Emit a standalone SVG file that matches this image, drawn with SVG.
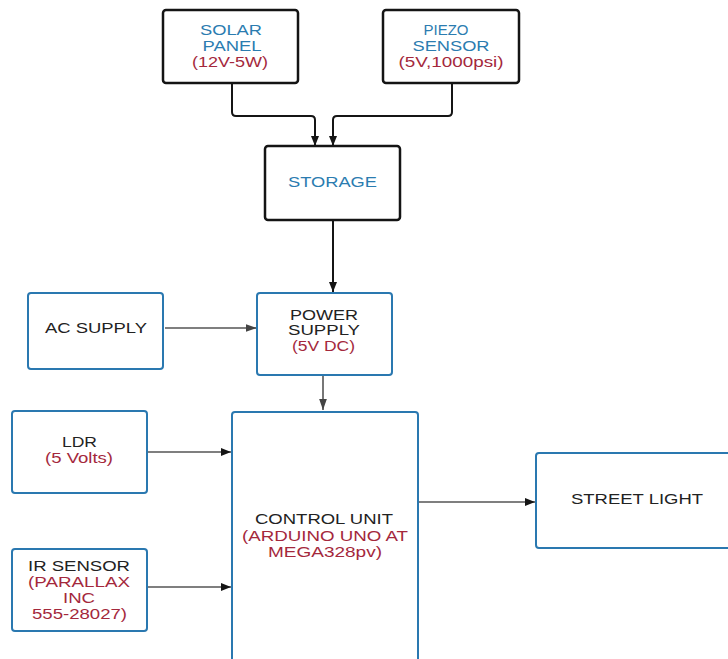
<svg xmlns="http://www.w3.org/2000/svg" width="728" height="659" viewBox="0 0 728 659">
<style>
.blk{fill:#fff;stroke:#141414;stroke-width:2.5}
.blu{fill:#fff;stroke:#2a78b0;stroke-width:2}
text{font-family:"Liberation Sans",Arial,sans-serif;font-size:14px;text-anchor:middle}
.tb{fill:#2b7cb0}
.tr{fill:#a4283c}
.tk{fill:#222}
.c1{fill:none;stroke:#151515;stroke-width:2}
.c2{fill:none;stroke:#555;stroke-width:1.6}
</style>
<defs>
<marker id="ah" viewBox="0 0 10 10" refX="10" refY="5" markerWidth="10" markerHeight="10" markerUnits="userSpaceOnUse" orient="auto"><path d="M0,1 L10,5 L0,9 Z" fill="#151515"/></marker>
<marker id="ahg" viewBox="0 0 10 10" refX="10" refY="5" markerWidth="11" markerHeight="11" markerUnits="userSpaceOnUse" orient="auto"><path d="M0,1.5 L10,5 L0,8.5 Z" fill="#444"/></marker>
</defs>
<rect width="728" height="659" fill="#fff"/>
<g id="connectors">
<path class="c1" d="M232,83 V112 Q232,116 236,116 H311 Q315,116 315,120 V146" marker-end="url(#ah)"/>
<path class="c1" d="M452,83 V112 Q452,116 448,116 H337 Q333,116 333,120 V146" marker-end="url(#ah)"/>
<path class="c1" d="M333,220 V292" marker-end="url(#ah)"/>
<path class="c2" d="M165,328 H257" marker-end="url(#ahg)"/>
<path class="c2" d="M323,376 V410" marker-end="url(#ahg)"/>
<path class="c2" d="M148,452 H231" marker-end="url(#ah)"/>
<path class="c2" d="M148,587 H231" marker-end="url(#ah)"/>
<path class="c2" d="M419,502 H535" marker-end="url(#ah)"/>
</g>
<g id="solar">
<rect class="blk" x="163" y="10" width="135" height="73" rx="3"/>
<text class="tb" x="231" y="35" textLength="62" lengthAdjust="spacingAndGlyphs">SOLAR</text>
<text class="tb" x="232" y="51" textLength="59" lengthAdjust="spacingAndGlyphs">PANEL</text>
<text class="tr" x="230" y="67" textLength="76" lengthAdjust="spacingAndGlyphs">(12V-5W)</text>
</g>
<g id="piezo">
<rect class="blk" x="383" y="10" width="136" height="73" rx="3"/>
<text class="tb" x="446" y="35" textLength="45" lengthAdjust="spacingAndGlyphs">PIEZO</text>
<text class="tb" x="451" y="51" textLength="77" lengthAdjust="spacingAndGlyphs">SENSOR</text>
<text class="tr" x="451" y="67" textLength="105" lengthAdjust="spacingAndGlyphs">(5V,1000psi)</text>
</g>
<g id="storage">
<rect class="blk" x="265" y="146" width="135" height="74" rx="3"/>
<text class="tb" x="332.5" y="187" textLength="89" lengthAdjust="spacingAndGlyphs">STORAGE</text>
</g>
<g id="ac">
<rect class="blu" x="28" y="293" width="135" height="76" rx="3"/>
<text class="tk" x="96" y="333" textLength="102" lengthAdjust="spacingAndGlyphs">AC SUPPLY</text>
</g>
<g id="power">
<rect class="blu" x="257" y="293" width="135" height="82" rx="3"/>
<text class="tk" x="324" y="320" textLength="68" lengthAdjust="spacingAndGlyphs">POWER</text>
<text class="tk" x="324" y="335" textLength="72" lengthAdjust="spacingAndGlyphs">SUPPLY</text>
<text class="tr" x="323.5" y="351" textLength="63" lengthAdjust="spacingAndGlyphs">(5V DC)</text>
</g>
<g id="ldr">
<rect class="blu" x="12" y="411" width="135" height="82" rx="3"/>
<text class="tk" x="79.5" y="447" textLength="35" lengthAdjust="spacingAndGlyphs">LDR</text>
<text class="tr" x="79" y="463" textLength="68" lengthAdjust="spacingAndGlyphs">(5 Volts)</text>
</g>
<g id="control">
<rect class="blu" x="232" y="412" width="186" height="250" rx="3"/>
<text class="tk" x="324" y="524" textLength="138" lengthAdjust="spacingAndGlyphs">CONTROL UNIT</text>
<text class="tr" x="325" y="541" textLength="166" lengthAdjust="spacingAndGlyphs">(ARDUINO UNO AT</text>
<text class="tr" x="325" y="557" textLength="114" lengthAdjust="spacingAndGlyphs">MEGA328pv)</text>
</g>
<g id="ir">
<rect class="blu" x="12" y="549" width="135" height="82" rx="3"/>
<text class="tk" x="79" y="571" textLength="102" lengthAdjust="spacingAndGlyphs">IR SENSOR</text>
<text class="tr" x="79" y="587" textLength="102" lengthAdjust="spacingAndGlyphs">(PARALLAX</text>
<text class="tr" x="79" y="603" textLength="32" lengthAdjust="spacingAndGlyphs">INC</text>
<text class="tr" x="79.5" y="619" textLength="95" lengthAdjust="spacingAndGlyphs">555-28027)</text>
</g>
<g id="street">
<rect class="blu" x="536" y="453" width="200" height="95" rx="3"/>
<text class="tk" x="637" y="504" textLength="132" lengthAdjust="spacingAndGlyphs">STREET LIGHT</text>
</g>
</svg>
